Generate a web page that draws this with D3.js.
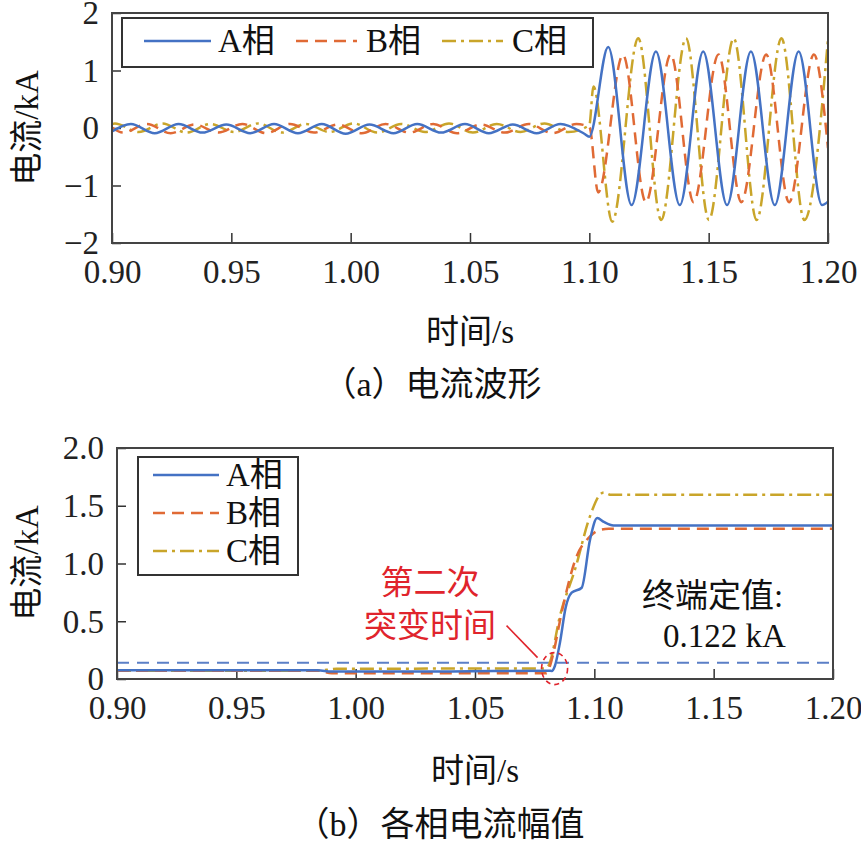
<!DOCTYPE html>
<html><head><meta charset="utf-8">
<script src="https://cdn.jsdelivr.net/npm/d3@7"></script>
<style>body{margin:0;background:#fff}svg{display:block}</style>
</head><body>
<svg id="c" width="861" height="842"></svg>
<script>
// ---------------- data ----------------
const phases = ["A相", "B相", "C相"];
const xTicks = [0.90, 0.95, 1.00, 1.05, 1.10, 1.15, 1.20];
const xTickLabels = ["0.90", "0.95", "1.00", "1.05", "1.10", "1.15", "1.20"];
const yTicksTop = [2, 1, 0, -1, -2];
const yTickLabelsTop = ["2", "1", "0", "\u22121", "\u22122"];
const yTicksBottom = [2.0, 1.5, 1.0, 0.5, 0];
const yTickLabelsBottom = ["2.0", "1.5", "1.0", "0.5", "0"];

// (a) current waveforms: extrema (kA)
const waveTimeA = [0.9000,0.9079,0.9179,0.9279,0.9379,0.9479,0.9579,0.9679,0.9779,0.9879,0.9979,1.0079,1.0179,1.0279,1.0379,1.0479,1.0579,1.0679,1.0779,1.0879,1.0979,1.1000,1.1079,1.1177,1.1279,1.1379,1.1477,1.1577,1.1677,1.1777,1.1877,1.1975,1.2000];
const waveA = [-0.06,0.07,-0.09,0.07,-0.08,0.06,-0.09,0.07,-0.09,0.07,-0.10,0.06,-0.09,0.07,-0.08,0.07,-0.09,0.06,-0.09,0.07,-0.10,-0.15,1.41,-1.34,1.33,-1.34,1.33,-1.34,1.33,-1.34,1.33,-1.34,-1.28];
const waveTimeB = [0.9000,0.9046,0.9146,0.9246,0.9346,0.9446,0.9546,0.9646,0.9746,0.9846,0.9946,1.0046,1.0146,1.0246,1.0346,1.0446,1.0546,1.0646,1.0746,1.0846,1.0946,1.1000,1.1037,1.1141,1.1237,1.1341,1.1437,1.1541,1.1637,1.1741,1.1837,1.1941,1.2000];
const waveB = [0.01,-0.08,0.07,-0.09,0.06,-0.08,0.07,-0.09,0.07,-0.08,0.06,-0.09,0.07,-0.08,0.07,-0.09,0.06,-0.08,0.07,-0.09,0.07,0.02,-1.12,1.27,-1.29,1.28,-1.29,1.28,-1.29,1.28,-1.29,1.28,-0.35];
const waveTimeC = [0.9000,0.9012,0.9112,0.9212,0.9312,0.9412,0.9512,0.9612,0.9712,0.9812,0.9912,1.0012,1.0112,1.0212,1.0312,1.0412,1.0512,1.0612,1.0712,1.0812,1.0912,1.1000,1.1017,1.1096,1.1205,1.1301,1.1405,1.1501,1.1605,1.1701,1.1805,1.1901,1.2000];
const waveC = [0.07,0.08,-0.07,0.08,-0.08,0.07,-0.07,0.08,-0.08,0.07,-0.07,0.08,-0.08,0.07,-0.07,0.08,-0.08,0.07,-0.07,0.08,-0.07,0.05,0.72,-1.63,1.56,-1.60,1.56,-1.60,1.56,-1.60,1.56,-1.60,1.55];

// (b) phase current amplitudes (kA)
const ampTimeA = [0.900,0.984,0.990,1.040,1.0810,1.0822,1.0835,1.0856,1.0880,1.0905,1.0947,1.0982,1.1012,1.1040,1.1080,1.200];
const ampA = [0.075,0.075,0.064,0.066,0.072,0.070,0.115,0.316,0.620,0.747,0.790,1.207,1.394,1.360,1.330,1.330];
const ampTimeB = [0.900,0.984,0.990,1.080,1.0812,1.0828,1.0863,1.0926,1.0975,1.1023,1.1060,1.200];
const ampB = [0.072,0.072,0.050,0.050,0.100,0.220,0.575,1.063,1.220,1.290,1.300,1.300];
const ampTimeC = [0.900,0.984,0.992,1.079,1.0805,1.0814,1.0856,1.0919,1.0982,1.1023,1.1040,1.1070,1.200];
const ampC = [0.072,0.072,0.088,0.092,0.105,0.146,0.546,0.948,1.410,1.595,1.615,1.595,1.595];

const thresholdValue = 0.14;          // dashed line as drawn
const thresholdText = ["终端定值:", "0.122 kA"];
const markTime = 1.0825, markValue = 0.09; // "second change time"
const markText = ["第二次", "突变时间"];

// ---------------- styles ----------------
const colors = ["#4472c4", "#e06a35", "#c9a52a"];
const dashes = [null, "12,7", "14,5,3,5"];
const serif = "'Liberation Serif','Times New Roman',serif";
const mixed = "'Liberation Serif','Noto Sans CJK SC',sans-serif";
const cjk = "'Noto Sans CJK SC',sans-serif";

const svg = d3.select("#c");
const defs = svg.append("defs");

function panel(id, x, y, yTicks, yLabels, tickOffset) {
  const g = svg.append("g");
  const [x0, x1] = x.range(), [yb, yt] = y.range();
  defs.append("clipPath").attr("id", id).append("rect")
    .attr("x", x0).attr("y", yt).attr("width", x1 - x0).attr("height", yb - yt);
  // x axis
  g.append("g").attr("transform", `translate(0,${yb})`)
    .call(d3.axisBottom(x).tickValues(xTicks).tickFormat((d, i) => xTickLabels[i]).tickSizeInner(-10).tickSizeOuter(0))
    .call(a => a.select(".domain").remove())
    .call(a => a.selectAll("line").attr("stroke", "#333").attr("stroke-width", 1.5))
    .call(a => a.selectAll("text").attr("y", tickOffset).attr("dy", null)
      .attr("font-size", 33).attr("font-family", serif).attr("fill", "#222"));
  // y axis
  g.append("g").attr("transform", `translate(${x0},0)`)
    .call(d3.axisLeft(y).tickValues(yTicks).tickFormat((d, i) => yLabels[i]).tickSizeInner(-9).tickSizeOuter(0))
    .call(a => a.select(".domain").remove())
    .call(a => a.selectAll("line").attr("stroke", "#333").attr("stroke-width", 1.5))
    .call(a => a.selectAll("text").attr("x", -13).attr("dy", "0.33em")
      .attr("font-size", 33).attr("font-family", serif).attr("fill", "#222"));
  return g;
}

function frame(g, x, y) {
  const [x0, x1] = x.range(), [yb, yt] = y.range();
  g.append("rect").attr("x", x0).attr("y", yt).attr("width", x1 - x0).attr("height", yb - yt)
    .attr("fill", "none").attr("stroke", "#444").attr("stroke-width", 2);
}

function drawSeries(g, id, x, y, times, values) {
  const line = d3.line().x(d => x(d[0])).y(d => y(d[1])).curve(d3.curveMonotoneX);
  const lg = g.append("g").attr("clip-path", `url(#${id})`);
  [2, 1, 0].forEach(i => {
    lg.append("path").datum(d3.zip(times[i], values[i])).attr("d", line)
      .attr("fill", "none").attr("stroke", colors[i]).attr("stroke-width", 2.5)
      .attr("stroke-dasharray", dashes[i]).attr("stroke-linejoin", "round");
  });
}

function legendItem(g, i, lx0, lx1, ly, tx) {
  g.append("line").attr("x1", lx0).attr("x2", lx1).attr("y1", ly).attr("y2", ly)
    .attr("stroke", colors[i]).attr("stroke-width", 2.5).attr("stroke-dasharray", dashes[i]);
  g.append("text").attr("x", tx).attr("y", ly + 11).text(phases[i])
    .attr("font-size", 33).attr("font-family", mixed).attr("fill", "#111");
}

// ---------------- (a) ----------------
const xa = d3.scaleLinear().domain([0.9, 1.2]).range([112, 828]);
const ya = d3.scaleLinear().domain([-2, 2]).range([243, 13]);
const ga = panel("clipA", xa, ya, yTicksTop, yTickLabelsTop, 40);
drawSeries(ga, "clipA", xa, ya, [waveTimeA, waveTimeB, waveTimeC], [waveA, waveB, waveC]);
frame(ga, xa, ya);
const lega = ga.append("g");
lega.append("rect").attr("x", 122).attr("y", 18).attr("width", 471).attr("height", 49)
  .attr("fill", "#fff").attr("stroke", "#333").attr("stroke-width", 2);
legendItem(lega, 0, 144, 211, 41, 218);
legendItem(lega, 1, 296, 357, 41, 366);
legendItem(lega, 2, 442, 503, 41, 512);
ga.append("text").attr("transform", "translate(38,128) rotate(-90)").attr("text-anchor", "middle")
  .text("电流/kA").attr("font-size", 33).attr("font-family", mixed).attr("fill", "#111");
ga.append("text").attr("x", 470).attr("y", 343).attr("text-anchor", "middle")
  .text("时间/s").attr("font-size", 33).attr("font-family", mixed).attr("fill", "#111");
ga.append("text").attr("x", 432).attr("y", 396).attr("text-anchor", "middle")
  .text("（a）电流波形").attr("font-size", 34).attr("font-family", mixed).attr("fill", "#111");

// ---------------- (b) ----------------
const xb = d3.scaleLinear().domain([0.9, 1.2]).range([117, 833]);
const yb = d3.scaleLinear().domain([0, 2]).range([679, 448]);
const gb = panel("clipB", xb, yb, yTicksBottom, yTickLabelsBottom, 40);
gb.append("line").attr("clip-path", "url(#clipB)")
  .attr("x1", xb(0.9)).attr("x2", xb(1.2)).attr("y1", yb(thresholdValue)).attr("y2", yb(thresholdValue))
  .attr("stroke", "#5b7fc6").attr("stroke-width", 2).attr("stroke-dasharray", "12,8");
drawSeries(gb, "clipB", xb, yb, [ampTimeA, ampTimeB, ampTimeC], [ampA, ampB, ampC]);
frame(gb, xb, yb);
const legb = gb.append("g");
legb.append("rect").attr("x", 138).attr("y", 457).attr("width", 160).attr("height", 118)
  .attr("fill", "#fff").attr("stroke", "#333").attr("stroke-width", 2);
legendItem(legb, 0, 153, 219, 475, 226);
legendItem(legb, 1, 153, 219, 513, 226);
legendItem(legb, 2, 153, 219, 551, 226);

// annotation
const cx = xb(markTime), cy = yb(markValue);
gb.append("ellipse").attr("cx", cx + 2).attr("cy", cy).attr("rx", 13).attr("ry", 16)
  .attr("fill", "none").attr("stroke", "#e0242c").attr("stroke-width", 1.6).attr("stroke-dasharray", "5,4");
gb.append("line").attr("x1", cx - 46).attr("y1", cy - 43).attr("x2", cx - 15).attr("y2", cy - 11)
  .attr("stroke", "#e0242c").attr("stroke-width", 1.6);
gb.append("text").attr("x", 430).attr("y", 594).attr("text-anchor", "middle").text(markText[0])
  .attr("font-size", 33).attr("font-family", cjk).attr("fill", "#e0242c");
gb.append("text").attr("x", 430).attr("y", 637).attr("text-anchor", "middle").text(markText[1])
  .attr("font-size", 33).attr("font-family", cjk).attr("fill", "#e0242c");
gb.append("text").attr("x", 642).attr("y", 607).text(thresholdText[0])
  .attr("font-size", 33).attr("font-family", mixed).attr("fill", "#111");
gb.append("text").attr("x", 663).attr("y", 647).text(thresholdText[1])
  .attr("font-size", 33).attr("font-family", serif).attr("fill", "#111");

gb.append("text").attr("transform", "translate(38,563) rotate(-90)").attr("text-anchor", "middle")
  .text("电流/kA").attr("font-size", 33).attr("font-family", mixed).attr("fill", "#111");
gb.append("text").attr("x", 475).attr("y", 782).attr("text-anchor", "middle")
  .text("时间/s").attr("font-size", 33).attr("font-family", mixed).attr("fill", "#111");
gb.append("text").attr("x", 440).attr("y", 836).attr("text-anchor", "middle")
  .text("（b）各相电流幅值").attr("font-size", 34).attr("font-family", mixed).attr("fill", "#111");
</script>
</body></html>
